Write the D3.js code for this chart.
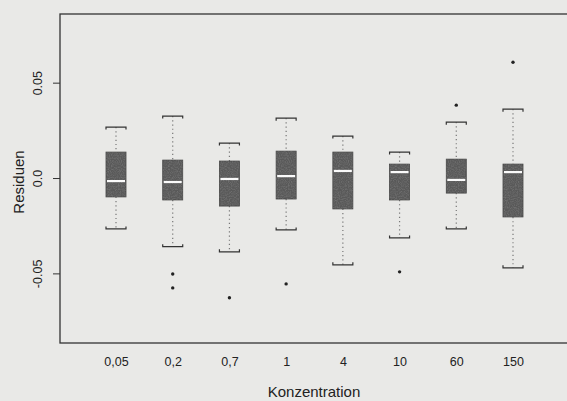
<!DOCTYPE html>
<html>
<head>
<meta charset="utf-8">
<script src="https://cdn.jsdelivr.net/npm/d3@7"></script>
<style>
  html, body { margin: 0; padding: 0; background: #e9e9e7; }
  svg { display: block; }
  text { font-family: "Liberation Sans", Arial, sans-serif; fill: #222; }
</style>
</head>
<body>
<div id="chart"></div>
<script>
// Konzentration groups and the box statistics
var categories = ["0,05", "0,2", "0,7", "1", "4", "10", "60", "150"];
var lowWhisker = [-0.0267, -0.0360, -0.0387, -0.0272, -0.0455, -0.0314, -0.0267, -0.0471];
var q1 = [-0.0099, -0.0115, -0.0147, -0.0110, -0.0162, -0.0115, -0.0079, -0.0204];
var median = [-0.0016, -0.0021, -0.0005, 0.0010, 0.0037, 0.0031, -0.0010, 0.0031];
var q3 = [0.0136, 0.0094, 0.0089, 0.0141, 0.0136, 0.0073, 0.0099, 0.0073];
var highWhisker = [0.0267, 0.0325, 0.0183, 0.0314, 0.0220, 0.0136, 0.0293, 0.0361];
var outliers = [[], [-0.0503, -0.0576], [-0.0628], [-0.0555], [], [-0.0492], [0.0382], [0.0607]];
var yTicks = [-0.05, 0.0, 0.05];
var yTickLabels = ["-0.05", "0.0", "0.05"];

var W = 567, H = 401;
var margin = {top: 14, right: -8, bottom: 58, left: 60};
var width = W - margin.left - margin.right,
    height = H - margin.top - margin.bottom;

var svg = d3.select("#chart").append("svg").attr("width", W).attr("height", H);

// a little grain so the boxes look like the scanned print
var defs = svg.append("defs");
var grain = defs.append("filter").attr("id", "grain").attr("x", 0).attr("y", 0).attr("width", 1).attr("height", 1);
grain.append("feTurbulence").attr("type", "fractalNoise").attr("baseFrequency", 0.9).attr("numOctaves", 2).attr("seed", 3).attr("result", "n");
grain.append("feColorMatrix").attr("type", "matrix")
    .attr("values", "0 0 0 0 0.35  0 0 0 0 0.35  0 0 0 0 0.35  0 0 0 -1.2 0.75").attr("in", "n").attr("result", "dots");
grain.append("feComposite").attr("in", "dots").attr("in2", "SourceGraphic").attr("operator", "in");

var g = svg.append("g").attr("transform", "translate(" + margin.left + "," + margin.top + ")");

// boxes sit at 116 ... 513 on the page
var x = d3.scalePoint().domain(categories).range([56, 453]);
var y = d3.scaleLinear().domain([-0.0865, 0.0860]).range([height, 0]);
var boxW = 20;

// frame (right side runs off the page)
g.append("rect").attr("x", 0).attr("y", 0).attr("width", width).attr("height", height)
    .attr("fill", "none").attr("stroke", "#333").attr("stroke-width", 1.3);

// y axis
var yAxis = g.append("g").call(d3.axisLeft(y).tickValues(yTicks).tickSize(7).tickFormat(function(d, i) { return yTickLabels[i]; }));
yAxis.select(".domain").remove();
yAxis.selectAll("line").attr("stroke", "#333");
yAxis.selectAll("text").attr("x", 0).attr("dy", 0)
    .attr("transform", "translate(-18,0) rotate(-90)")
    .attr("text-anchor", "middle").attr("font-size", 12.5).attr("fill", "#222")
    .style("font-family", "Liberation Sans, Arial, sans-serif");

// x labels (no ticks)
var xAxis = g.append("g").attr("transform", "translate(0," + height + ")")
    .call(d3.axisBottom(x).tickSize(0).tickPadding(14));
xAxis.select(".domain").remove();
xAxis.selectAll("text").attr("font-size", 12.5).attr("fill", "#222")
    .style("font-family", "Liberation Sans, Arial, sans-serif");

// axis titles
svg.append("text").attr("x", 314).attr("y", 397)
    .attr("text-anchor", "middle").attr("font-size", 15).text("Konzentration");
svg.append("text").attr("transform", "translate(24,182) rotate(-90)")
    .attr("text-anchor", "middle").attr("font-size", 15).text("Residuen");

var boxes = g.selectAll(".box").data(categories).enter().append("g").attr("class", "box")
    .attr("transform", function(d) { return "translate(" + x(d) + ",0)"; });

// dotted whiskers
boxes.append("line").attr("x1", 0).attr("x2", 0)
    .attr("y1", function(d, i) { return y(highWhisker[i]); })
    .attr("y2", function(d, i) { return y(q3[i]); })
    .attr("stroke", "#777").attr("stroke-width", 1.2).attr("stroke-dasharray", "1.2,3");
boxes.append("line").attr("x1", 0).attr("x2", 0)
    .attr("y1", function(d, i) { return y(q1[i]); })
    .attr("y2", function(d, i) { return y(lowWhisker[i]); })
    .attr("stroke", "#777").attr("stroke-width", 1.2).attr("stroke-dasharray", "1.2,3");

// staples
boxes.append("path").attr("d", function(d, i) {
    var yy = y(highWhisker[i]);
    return "M" + (-boxW / 2) + "," + (yy + 2.5) + "V" + yy + "H" + (boxW / 2) + "V" + (yy + 2.5);
}).attr("fill", "none").attr("stroke", "#333").attr("stroke-width", 1.2);
boxes.append("path").attr("d", function(d, i) {
    var yy = y(lowWhisker[i]);
    return "M" + (-boxW / 2) + "," + (yy - 2.5) + "V" + yy + "H" + (boxW / 2) + "V" + (yy - 2.5);
}).attr("fill", "none").attr("stroke", "#333").attr("stroke-width", 1.2);

// boxes
boxes.append("rect").attr("x", -boxW / 2).attr("width", boxW)
    .attr("y", function(d, i) { return y(q3[i]); })
    .attr("height", function(d, i) { return y(q1[i]) - y(q3[i]); })
    .attr("fill", "#595959").attr("stroke", "#444").attr("stroke-width", 0.8);
boxes.append("rect").attr("x", -boxW / 2).attr("width", boxW)
    .attr("y", function(d, i) { return y(q3[i]); })
    .attr("height", function(d, i) { return y(q1[i]) - y(q3[i]); })
    .attr("fill", "#fff").attr("filter", "url(#grain)").attr("opacity", 0.6);

// medians
boxes.append("line").attr("x1", -boxW / 2 + 1).attr("x2", boxW / 2 - 1)
    .attr("y1", function(d, i) { return y(median[i]); })
    .attr("y2", function(d, i) { return y(median[i]); })
    .attr("stroke", "#fafafa").attr("stroke-width", 2.2);

// outliers
boxes.each(function(d, i) {
    d3.select(this).selectAll("circle").data(outliers[i]).enter().append("circle")
        .attr("cx", 0).attr("cy", function(v) { return y(v); }).attr("r", 1.7).attr("fill", "#222");
});
</script>
</body>
</html>
